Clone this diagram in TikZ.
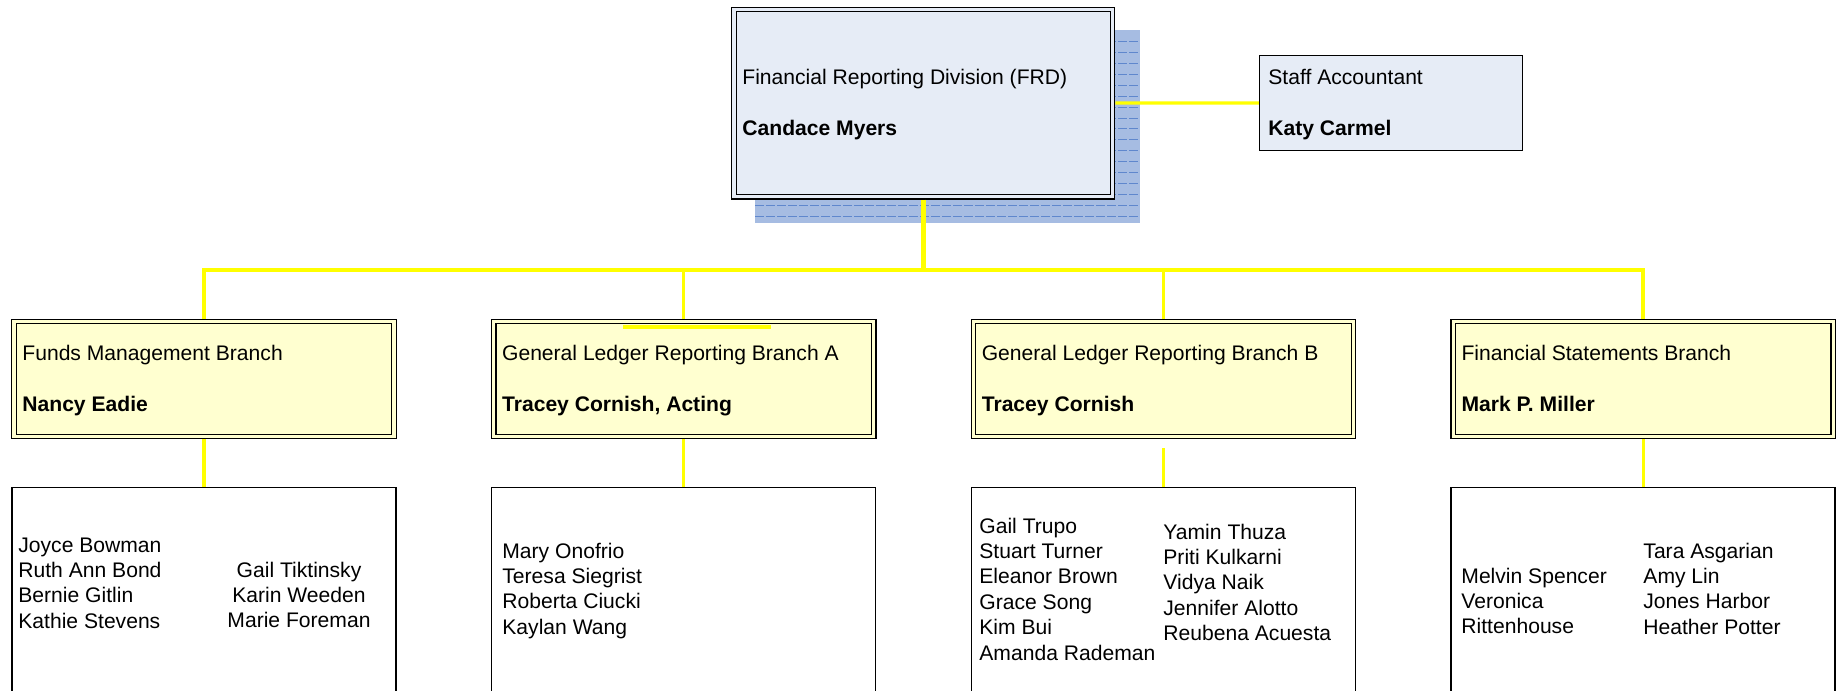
\documentclass[tikz,border=0pt]{standalone}
\usepackage{fontspec}
\setmainfont{Liberation Sans}
\usetikzlibrary{positioning}

\definecolor{divfill}{RGB}{230,236,246}
\definecolor{shadowblue}{RGB}{166,188,226}
\definecolor{shadowline}{RGB}{95,135,205}
\definecolor{branchfill}{RGB}{255,255,208}
\definecolor{linkyellow}{RGB}{255,255,0}

\begin{document}
\begin{tikzpicture}[x=0.5pt, y=-0.5pt,
    every node/.style={font=\fontsize{10.55}{12.7}\selectfont},
    division box/.style={draw, fill=divfill, double=divfill, line width=0.65pt,
      double distance=1.6pt, outer sep=1.45pt,
      minimum width=189.25pt, minimum height=93.6pt},
    post box/.style={draw, fill=divfill, line width=0.75pt, outer sep=0.375pt,
      minimum width=131.5pt, minimum height=47.5pt},
    branch box/.style={draw, fill=branchfill, double=branchfill, line width=0.65pt,
      double distance=1.6pt, outer sep=1.45pt,
      minimum width=190pt, minimum height=57.5pt},
    team box/.style={draw, line width=0.75pt, outer sep=0.375pt,
      minimum width=192pt, minimum height=116.25pt},
    title text/.style={anchor=base west, inner sep=0pt},
    chief text/.style={anchor=base west, inner sep=0pt,
      font=\fontsize{10.55}{12.7}\selectfont\bfseries},
    member text/.style={anchor=base west, inner sep=0pt},
    link/.style={draw=linkyellow, line width=1.6pt}]

    \path[use as bounding box, clip] (0,0) rectangle (1839,690);

    % shadow behind the division box
    \fill[shadowblue] (755,30) rectangle (1140,223);
    \foreach \k in {0,...,16}
    \draw[shadowline, line width=0.5pt, dash pattern=on 4.5pt off 1pt]
    (755,{41.7+10.9*\k}) -- (1140,{41.7+10.9*\k});

    \node[division box] (FRD) at (923.3,103.1) {};
    \node[post box] (SA) at (1391,103) {};

    \node[title text] (FRD title) at (742,84)  {Financial Reporting Division (FRD)};
    \node[chief text] (FRD chief) at (742,135) {Candace Myers};
    \node[title text] (SA title)  at (1268,84)  {Staff Accountant};
    \node[chief text] (SA chief)  at (1268,135) {Katy Carmel};

    \node[branch box] (FM)  at (204,379)    {};
    \node[branch box] (GLA) at (683.7,379)  {};
    \node[branch box] (GLB) at (1163.4,379) {};
    \node[branch box] (FS)  at (1643.1,379) {};

    \node[title text] (FM title)  at (22,360)     {Funds Management Branch};
    \node[title text] (GLA title) at (501.7,360)  {General Ledger Reporting Branch A};
    \node[title text] (GLB title) at (981.4,360)  {General Ledger Reporting Branch B};
    \node[title text] (FS title)  at (1461.1,360) {Financial Statements Branch};

    \node[chief text] (FM chief)  at (22,411)     {Nancy Eadie};
    \node[chief text] (GLA chief) at (501.7,411)  {Tracey Cornish, Acting};
    \node[chief text] (GLB chief) at (981.4,411)  {Tracey Cornish};
    \node[chief text] (FS chief)  at (1461.1,411) {Mark P. Miller};

    \node[team box] (FM team)  at (204,603.75)    {};
    \node[team box] (GLA team) at (683.7,603.75)  {};
    \node[team box] (GLB team) at (1163.4,603.75) {};
    \node[team box] (FS team)  at (1643.1,603.75) {};

    \foreach \who [count=\n] in {Joyce Bowman, Ruth Ann Bond, Bernie Gitlin, Kathie Stevens}
    \node[member text] (FM left \n) at (18,{552+25.4*(\n-1)}) {\who};
    \foreach \who [count=\n] in {Gail Tiktinsky, Karin Weeden, Marie Foreman}
    \node[member text, anchor=base] (FM right \n) at (299,{577+25.4*(\n-1)}) {\who};

    \foreach \who [count=\n] in {Mary Onofrio, Teresa Siegrist, Roberta Ciucki, Kaylan Wang}
    \node[member text] (GLA left \n) at (502,{558+25.4*(\n-1)}) {\who};

    \foreach \who [count=\n] in {Gail Trupo, Stuart Turner, Eleanor Brown, Grace Song, Kim Bui, Amanda Rademan}
    \node[member text] (GLB left \n) at (979,{533+25.4*(\n-1)}) {\who};
    \foreach \who [count=\n] in {Yamin Thuza, Priti Kulkarni, Vidya Naik, Jennifer Alotto, Reubena Acuesta}
    \node[member text] (GLB right \n) at (1163,{539+25.4*(\n-1)}) {\who};

    \foreach \who [count=\n] in {Melvin Spencer, Veronica, Rittenhouse}
    \node[member text] (FS left \n) at (1461,{583+25.4*(\n-1)}) {\who};
    \foreach \who [count=\n] in {Tara Asgarian, Amy Lin, Jones Harbor, Heather Potter}
    \node[member text] (FS right \n) at (1643,{558+25.4*(\n-1)}) {\who};

    % yellow connectors
    \coordinate (bus) at (0,270);
    \draw[link, line width=2.5pt] (FRD.south) -- (FRD.south |- bus);
    \draw[link, line width=1.75pt] (FM.north) -- (FM.north |- bus)
    -- (FS.north |- bus) -- (FS.north);
    \foreach \unit in {GLA,GLB}
    \draw[link] (\unit.north |- bus) -- (\unit.north);
    \draw[link] (FRD.east) -- (SA.west);
    \foreach \unit in {FM,GLA,FS}
    \draw[link] (\unit.south) -- (\unit\space team.north);
    \draw[link, shorten <=4.5pt] (GLB.south) -- (GLB team.north);
    \draw[link, line width=2pt] (623,326.5) -- (771,326.5);
  \end{tikzpicture}
\end{document}
